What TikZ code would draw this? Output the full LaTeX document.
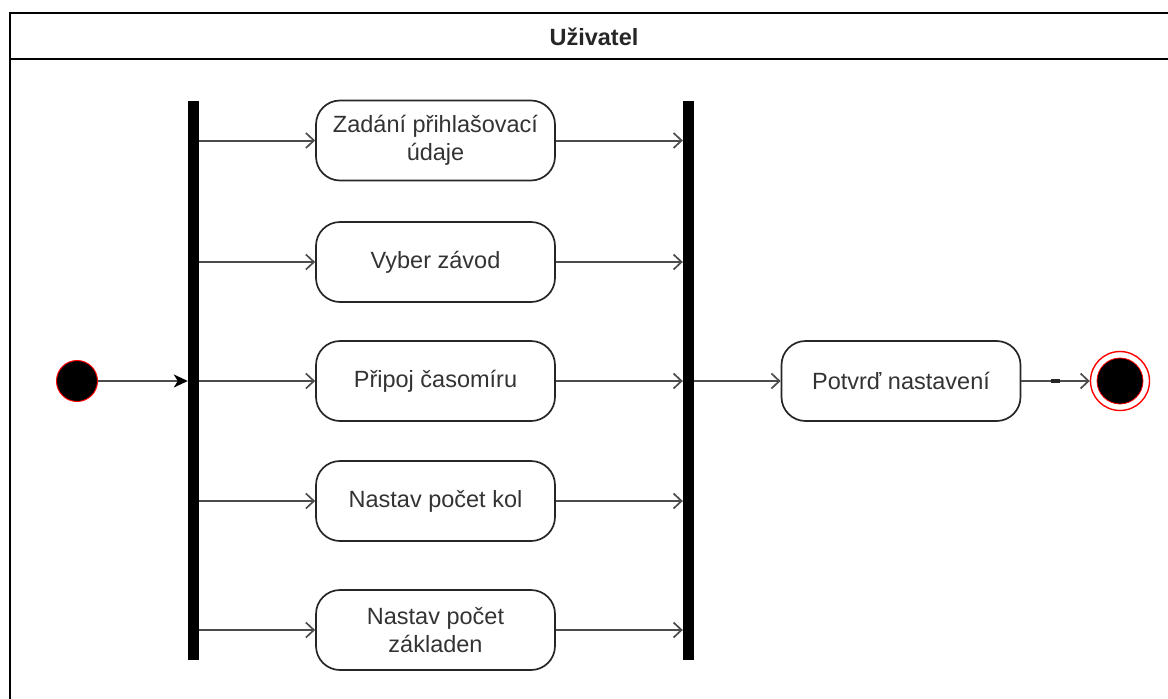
\documentclass[tikz,border=0pt]{standalone}
\usepackage{fontspec}
\setmainfont{Liberation Sans}
\usetikzlibrary{arrows.meta}
\begin{document}
\begin{tikzpicture}[x=1pt,y=-1pt,
  lane/.style={draw=black, line width=1.8pt},
  action/.style={draw=black!85, line width=1.7pt, rounded corners=24pt,
    minimum width=239pt, minimum height=80pt, align=center, text=black!80,
    font=\fontsize{23.5}{27.5}\selectfont, inner sep=2pt},
  forkbar/.style={fill=black, draw=none, minimum width=11pt,
    minimum height=559pt, inner sep=0pt},
  flow/.style={draw=black!70, line width=2pt,
    -{Straight Barb[length=8pt,width=15pt,line width=1.7pt]}},
  initflow/.style={draw=black!70, line width=2pt,
    -{Stealth[length=14pt,width=13pt,inset=4pt,color=black]}},
  startdot/.style={circle, fill=black, draw=red, line width=1pt,
    minimum size=41pt, inner sep=0pt},
  endring/.style={circle, draw=red, line width=1.4pt, minimum size=59pt, inner sep=0pt},
  enddot/.style={circle, fill=black, draw=red, line width=0.8pt,
    minimum size=46pt, inner sep=0pt}
]
\useasboundingbox (0,0) rectangle (1168,699);

% swimlane
\draw[lane] (10,13) rectangle (1180,710);
\draw[lane] (10,59) -- (1180,59);
\node[font=\bfseries\fontsize{23.5}{27}\selectfont, text=black!85] (lanetitle) at (594,36.5) {Uživatel};

% fork and join bars
\node[forkbar] (fork) at (193.5,380.5) {};
\node[forkbar] (join) at (688.5,380.5) {};

% start and end
\node[startdot] (start) at (77,381) {};
\node[endring] (endo) at (1120,381) {};
\node[enddot] (endi) at (1120,381) {};

% actions
\node[action] (a1) at (435.5,140.5) {Zadání přihlašovací\\údaje};
\node[action] (a2) at (435.5,262) {Vyber závod};
\node[action] (a3) at (435.5,381) {Připoj časomíru};
\node[action] (a4) at (435.5,501) {Nastav počet kol};
\node[action] (a5) at (435.5,630) {Nastav počet\\základen};
\node[action] (ok) at (901,381) {Potvrď nastavení};

% flows
\draw[initflow] (start) -- (fork.west |- start);
\foreach \a in {a1,a2,a3,a4,a5}{
  \draw[flow] (fork.east |- \a.west) -- (\a.west);
  \draw[flow] (\a.east) -- (join.west |- \a.east);
}
\draw[flow] (join.east |- ok.west) -- (ok.west);
\draw[flow] (ok.east) -- node[pos=0.5, fill=black!85, inner sep=0pt,
  minimum width=9pt, minimum height=3.5pt] (tick) {} (endo.west);
\end{tikzpicture}
\end{document}
